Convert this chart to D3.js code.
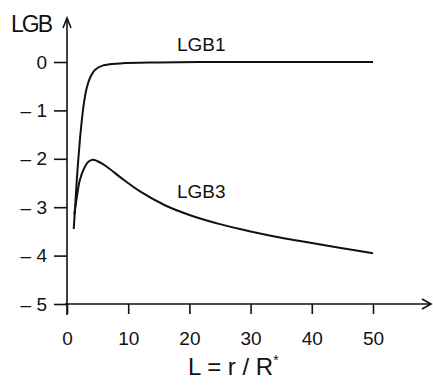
<!DOCTYPE html>
<html lang="en">
  <head>
    <meta charset="UTF-8" />
    <title>LGB vs L</title>
    <script src="https://d3js.org/d3.v7.min.js"></script>
    <style>
      body {
        margin: 0;
        background: #fff;
      }
      text {
        font-family: "Liberation Sans", Arial, sans-serif;
        fill: #111;
      }
      .curve {
        fill: none;
        stroke: #111;
        stroke-width: 2px;
      }
      .axis line,
      .axis path {
        stroke: #111;
        stroke-width: 1.6px;
      }
    </style>
  </head>
  <body>
    <svg width="433" height="385"></svg>

    <script>
      // values
      var lgb1L = [1.1, 1.35, 1.6, 1.95, 2.3, 2.8, 3.25, 3.75, 4.6, 5.9, 8.7, 15, 25, 35, 50];
      var lgb1V = [-3.45, -2.95, -2.44, -1.85, -1.35, -0.82, -0.52, -0.33, -0.16, -0.07, -0.03, -0.01, 0, 0, 0];

      var lgb3L = [1.2, 1.6, 2.1, 2.9, 3.5, 4.2, 5, 6, 7, 9, 12, 16, 20, 25, 30, 35, 40, 45, 50];
      var lgb3V = [-3.15, -2.8, -2.44, -2.17, -2.06, -2.02, -2.05, -2.12, -2.21, -2.41, -2.68, -2.96, -3.16, -3.35, -3.5, -3.63, -3.74, -3.85, -3.95];

      var xTicks = [0, 10, 20, 30, 40, 50];
      var yTicks = [0, -1, -2, -3, -4, -5];

      var svg = d3.select("svg");

      var x = d3.scaleLinear().domain([0, 50]).range([67, 373]);
      var y = d3.scaleLinear().domain([0, -5]).range([62, 304]);

      // x axis
      svg
        .append("g")
        .attr("class", "axis")
        .attr("transform", "translate(0," + y(-5) + ")")
        .call(d3.axisBottom(x).tickValues(xTicks).tickSize(10).tickSizeOuter(0).tickFormat(d3.format("d")))
        .call(function (g) {
          g.select(".domain").remove();
          g.selectAll("text").attr("dy", "1.45em").style("font-size", "19px");
        });

      svg
        .append("line")
        .attr("x1", x(0) - 2)
        .attr("x2", 430)
        .attr("y1", y(-5))
        .attr("y2", y(-5))
        .attr("stroke", "#111")
        .attr("stroke-width", 1.6);
      svg
        .append("path")
        .attr("d", "M422," + (y(-5) - 5) + "L431," + y(-5) + "L422," + (y(-5) + 5))
        .attr("fill", "none")
        .attr("stroke", "#111")
        .attr("stroke-width", 1.6);

      // y axis
      svg
        .append("g")
        .attr("class", "axis")
        .attr("transform", "translate(" + x(0) + ",0)")
        .call(d3.axisLeft(y).tickValues(yTicks).tickSize(13).tickSizeOuter(0).tickFormat(function (d) {
          return d === 0 ? "0" : "\u2013 " + Math.abs(d);
        }))
        .call(function (g) {
          g.select(".domain").remove();
          g.selectAll("text").attr("x", -20).style("font-size", "19px");
        });

      svg
        .append("line")
        .attr("x1", x(0))
        .attr("x2", x(0))
        .attr("y1", 19)
        .attr("y2", y(-5) + 11)
        .attr("stroke", "#111")
        .attr("stroke-width", 1.6);
      svg
        .append("path")
        .attr("d", "M" + (x(0) - 4) + ",28L" + x(0) + ",18L" + (x(0) + 4) + ",28")
        .attr("fill", "none")
        .attr("stroke", "#111")
        .attr("stroke-width", 1.6);

      // curves
      var line = d3
        .line()
        .x(function (d) {
          return x(d[0]);
        })
        .y(function (d) {
          return y(d[1]);
        })
        .curve(d3.curveCatmullRom.alpha(0.5));

      svg.append("path").attr("class", "curve").attr("d", line(d3.zip(lgb1L, lgb1V)));
      svg.append("path").attr("class", "curve").attr("d", line(d3.zip(lgb3L, lgb3V)));

      // labels
      svg.append("text").attr("x", 11).attr("y", 32).style("font-size", "23px").attr("textLength", 42).text("LGB");
      svg.append("text").attr("x", 177).attr("y", 51).style("font-size", "19px").text("LGB1");
      svg.append("text").attr("x", 177).attr("y", 198).style("font-size", "19px").text("LGB3");

      var title = svg.append("text").attr("x", 188).attr("y", 375).style("font-size", "24px");
      title.append("tspan").text("L = r / R");
      title.append("tspan").attr("dy", -10).style("font-size", "14px").text("*");
    </script>
  </body>
</html>
